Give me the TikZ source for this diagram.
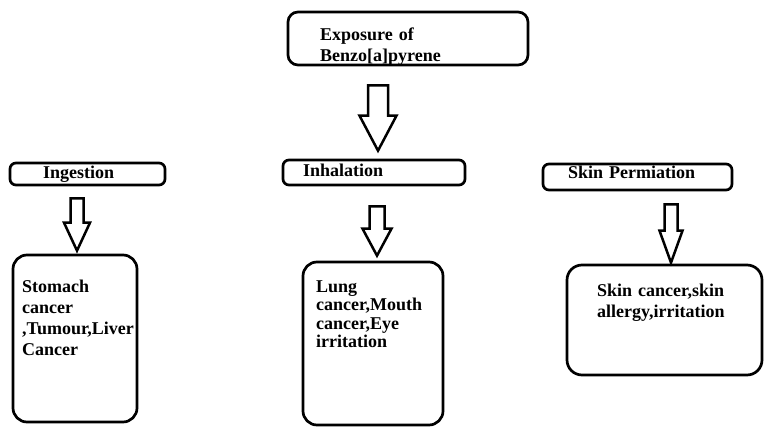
\documentclass[tikz,border=0pt]{standalone}
\usepackage{fontspec}
\setmainfont{Liberation Serif}
\usetikzlibrary{calc}

\tikzset{
  box/.style={draw=black, line width=2.7pt, fill=white, inner sep=0pt},
  label/.style={anchor=base west, inner sep=0pt, text width=200pt, align=left,
    font=\fontsize{18}{21}\selectfont\bfseries},
  arrowline/.style={draw=black, line width=2.5pt, fill=white, line join=miter},
}

% hollow block arrow: #1 tail, #2 tip, #3 shaft half width, #4 head half width, #5 head length
\newcommand\blockarrow[5]{%
  \path[arrowline] let \p1=(#1), \p2=(#2) in
    (\x2-#3pt,\y1) -- (\x2-#3pt,\y2+#5pt) -- (\x2-#4pt,\y2+#5pt) -- (\x2,\y2)
    -- (\x2+#4pt,\y2+#5pt) -- (\x2+#3pt,\y2+#5pt) -- (\x2+#3pt,\y1) -- cycle;}

\begin{document}
\begin{tikzpicture}[x=1pt,y=-1pt]
  \useasboundingbox[fill=white] (0,0) rectangle (767,433);

  % boxes
  \node[box, rounded corners=10pt, minimum width=240pt, minimum height=53pt] (expo) at (408,38.5) {};
  \node[box, rounded corners=6pt, minimum width=155pt, minimum height=22pt] (ingest) at (87.5,174) {};
  \node[box, rounded corners=6pt, minimum width=182pt, minimum height=25pt] (inhal) at (374,172.5) {};
  \node[box, rounded corners=6pt, minimum width=189pt, minimum height=26pt] (skinp) at (637.5,177) {};
  \node[box, rounded corners=14pt, minimum width=124pt, minimum height=167pt] (stom) at (75,338.5) {};
  \node[box, rounded corners=14pt, minimum width=140pt, minimum height=163pt] (lung) at (373,343.5) {};
  \node[box, rounded corners=15pt, minimum width=195pt, minimum height=110pt] (skin) at (664.5,320) {};

  % texts
  \node[label] (expoT) at (320,40.5) {Exposure of\\Benzo[a]pyrene};
  \node[label] (ingestT) at (43,178) {Ingestion};
  \node[label] (inhalT) at (303,176) {Inhalation};
  \node[label] (skinpT) at (568,178) {Skin Permiation};
  \node[label] (stomT) at (22,292) {Stomach\\cancer\\,Tumour,Liver\\Cancer};
  \node[label, font=\fontsize{18}{18.5}\selectfont\bfseries] (lungT) at (316,292)
    {Lung\\cancer,Mouth\\cancer,Eye\\irritation};
  \node[label] (skinT) at (597,296) {Skin cancer,skin\\allergy,irritation};

  % connector end points
  \coordinate (a0) at ($(expo.south)+(-31,19)$);
  \coordinate (b0) at ($(inhal.north)+(4,-8)$);
  \coordinate (a1) at ($(ingest.south)+(-10.5,12)$);
  \coordinate (b1) at ($(stom.north)+(2,-3)$);
  \coordinate (a2) at ($(inhal.south)+(3.5,20)$);
  \coordinate (b2) at ($(lung.north)+(4,-5)$);
  \coordinate (a3) at ($(skinp.south)+(33.5,13)$);
  \coordinate (b3) at ($(skin.north)+(6.5,-1)$);

  % hollow arrows
  \blockarrow{a0}{b0}{10}{18.5}{35}
  \blockarrow{a1}{b1}{6.5}{13}{28}
  \blockarrow{a2}{b2}{7.5}{14.5}{27}
  \blockarrow{a3}{b3}{6.5}{11.5}{32}
\end{tikzpicture}
\end{document}
